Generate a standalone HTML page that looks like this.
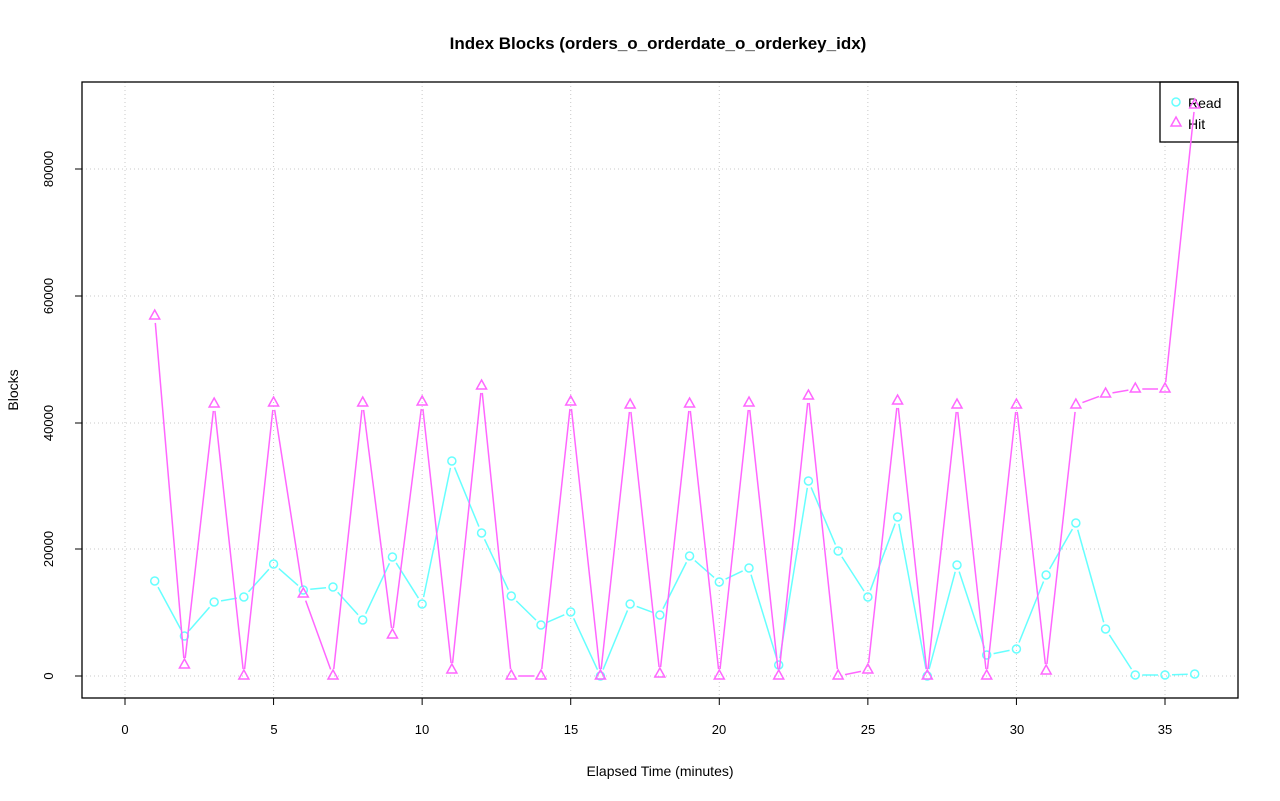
<!DOCTYPE html>
<html><head><style>body{margin:0;background:#fff}svg{display:block}text{font-family:"Liberation Sans",sans-serif}</style></head>
<body>
<svg id="s" width="1280" height="801" xmlns="http://www.w3.org/2000/svg">
<rect width="1280" height="801" fill="#fff"/>
<g id="grid" stroke="#c8c8c8" stroke-dasharray="1,3" stroke-width="1"></g>
<rect x="1160" y="82" width="78" height="60" fill="#fff" stroke="#000" stroke-width="1.3"/>
<circle cx="1176" cy="102" r="4" fill="none" stroke="#66ffff" stroke-width="1.5"/>
<polygon points="1176,117 1181,126 1171,126" fill="none" stroke="#ff66ff" stroke-width="1.5"/>
<text x="1188" y="108" font-size="14">Read</text>
<text x="1188" y="129" font-size="14">Hit</text>
<g id="series"></g>
<rect x="82" y="82" width="1156" height="616" fill="none" stroke="#000" stroke-width="1.3"/>
<text x="658" y="49" font-size="17" font-weight="bold" text-anchor="middle">Index Blocks (orders_o_orderdate_o_orderkey_idx)</text>
<text x="660" y="776" font-size="14" text-anchor="middle">Elapsed Time (minutes)</text>
<text transform="translate(18,390) rotate(-90)" font-size="14" text-anchor="middle">Blocks</text>
<g id="axes" stroke="#000" stroke-width="1"></g>
<g font-size="13" text-anchor="middle">
<text x="125" y="734">0</text><text x="274" y="734">5</text><text x="422" y="734">10</text><text x="571" y="734">15</text><text x="719" y="734">20</text><text x="868" y="734">25</text><text x="1017" y="734">30</text><text x="1165" y="734">35</text>
<text transform="translate(53,676) rotate(-90)">0</text>
<text transform="translate(53,549) rotate(-90)">20000</text>
<text transform="translate(53,423) rotate(-90)">40000</text>
<text transform="translate(53,296) rotate(-90)">60000</text>
<text transform="translate(53,169) rotate(-90)">80000</text>
</g>
</svg>
<script>
var ns="http://www.w3.org/2000/svg";
function X(i){return 125+i*1040/35;}
function el(p,t,a){var e=document.createElementNS(ns,t);for(var k in a)e.setAttribute(k,a[k]);p.appendChild(e);return e;}
var g=document.getElementById('grid'),ax=document.getElementById('axes'),s=document.getElementById('series');
for(var i=0;i<=35;i+=5){el(g,'line',{x1:X(i),x2:X(i),y1:82,y2:698});el(ax,'line',{x1:X(i),x2:X(i),y1:698,y2:705});}
el(ax,'line',{x1:X(0),x2:X(35),y1:698,y2:698});
var ys=[676,549,423,296,169];
ys.forEach(function(y){el(g,'line',{x1:82,x2:1238,y1:y,y2:y});el(ax,'line',{x1:75,x2:82,y1:y,y2:y});});
el(ax,'line',{x1:82,x2:82,y1:169,y2:676});
var R=[581,636,602,597,564,590,587,620,557,604,461,533,596,625,612,676,604,615,556,582,568,665,481,551,597,517,676,565,655,649,575,523,629,675,675,674];
var H=[316,665,404,676,403,594,676,403,635,402,670,386,676,676,402,676,405,674,404,676,403,676,396,676,670,401,676,405,676,405,671,405,394,389,389,105];
function draw(d,c,tri){
 for(var i=0;i<d.length-1;i++){var x1=X(i+1),y1=d[i],x2=X(i+2),y2=d[i+1];var dx=x2-x1,dy=y2-y1,L=Math.hypot(dx,dy),g2=7;
  if(L>2*g2)el(s,'line',{x1:x1+dx/L*g2,y1:y1+dy/L*g2,x2:x2-dx/L*g2,y2:y2-dy/L*g2,stroke:c,'stroke-width':1.5});}
 d.forEach(function(y,i){var x=X(i+1);
  if(tri)el(s,'polygon',{points:x+','+(y-6)+' '+(x+5)+','+(y+3)+' '+(x-5)+','+(y+3),fill:'none',stroke:c,'stroke-width':1.5});
  else el(s,'circle',{cx:x,cy:y,r:4,fill:'none',stroke:c,'stroke-width':1.5});});
}
draw(R,'#66ffff',false);draw(H,'#ff66ff',true);
</script>
</body></html>
